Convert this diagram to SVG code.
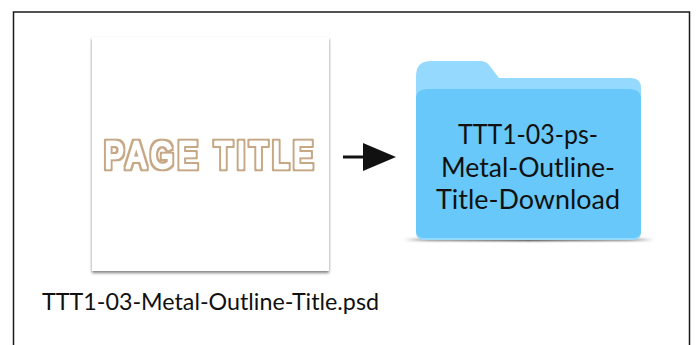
<svg xmlns="http://www.w3.org/2000/svg" width="696" height="345" viewBox="0 0 696 345">
  <defs>
    <filter id="pageShadow" x="-10%" y="-10%" width="120%" height="120%">
      <feGaussianBlur in="SourceAlpha" stdDeviation="1.5"/>
      <feOffset dy="2"/>
      <feComponentTransfer><feFuncA type="linear" slope="0.5"/></feComponentTransfer>
      <feMerge><feMergeNode/><feMergeNode in="SourceGraphic"/></feMerge>
    </filter>
    <filter id="metal" x="-5%" y="-20%" width="110%" height="140%">
      <feMorphology in="SourceAlpha" operator="dilate" radius="2" result="d"/>
      <feGaussianBlur in="d" stdDeviation="0.4" result="b"/>
      <feFlood flood-color="#c6a884"/>
      <feComposite in2="b" operator="in"/>
      <feMerge><feMergeNode/><feMergeNode in="SourceGraphic"/></feMerge>
    </filter>
    <filter id="blur" x="-5%" y="-200%" width="110%" height="500%"><feGaussianBlur stdDeviation="0.8"/></filter>
    <linearGradient id="ground" x1="0" x2="1" y1="0" y2="0">
      <stop offset="0" stop-color="#555" stop-opacity="0"/>
      <stop offset="0.1" stop-color="#666" stop-opacity=".8"/>
      <stop offset="0.5" stop-color="#222"/>
      <stop offset="0.9" stop-color="#666" stop-opacity=".8"/>
      <stop offset="1" stop-color="#555" stop-opacity="0"/>
    </linearGradient>
  </defs>
  <style>
    .lbl { font-family: "Lato", "Open Sans", sans-serif; fill: #111; }
    .ftxt { font-size: 27px; text-anchor: middle; }
  </style>
  <rect width="696" height="345" fill="#fff"/>
  <path d="M13.500 345V12H689.500V345" fill="none" stroke="#1a1a1a" stroke-width="1.500"/>
  <g id="page">
    <rect x="92" y="37" width="237" height="234" fill="#fff" filter="url(#pageShadow)"/>
    <text x="104.500" y="168" textLength="213" lengthAdjust="spacingAndGlyphs" letter-spacing="6" font-family="'Liberation Sans', sans-serif" font-size="37" fill="#fff" stroke="#fff" stroke-width="2.400" stroke-linejoin="round" stroke-linecap="round" filter="url(#metal)">PAGE TITLE</text>
    <text class="lbl" x="42" y="310" font-size="23" textLength="337" lengthAdjust="spacingAndGlyphs">TTT1-03-Metal-Outline-Title.psd</text>
  </g>
  <g id="connectors">
    <path d="M343 157H364" stroke="#111" stroke-width="3" fill="none"/>
    <path d="M363 143L396 157L363 171Z" fill="#111"/>
  </g>
  <g id="folder">
    <rect x="404" y="238.500" width="250" height="2.500" fill="url(#ground)" filter="url(#blur)"/>
    <path d="M416 76Q416 61 431 61H480Q486 61 489 65L499 78H631Q641 78 641 88V232Q641 240 633 240H424Q416 240 416 232Z" fill="#96d9ff"/>
    <path d="M416 99Q416 89 428 89H629Q641 89 641 99V231Q641 238 633 238H424Q416 238 416 231Z" fill="#68c8f9"/>
    <text class="lbl ftxt" x="528" y="144" textLength="140" lengthAdjust="spacingAndGlyphs">TTT1-03-ps-</text>
    <text class="lbl ftxt" x="528" y="177" textLength="174" lengthAdjust="spacingAndGlyphs">Metal-Outline-</text>
    <text class="lbl ftxt" x="528" y="209" textLength="184" lengthAdjust="spacingAndGlyphs">Title-Download</text>
  </g>
</svg>
